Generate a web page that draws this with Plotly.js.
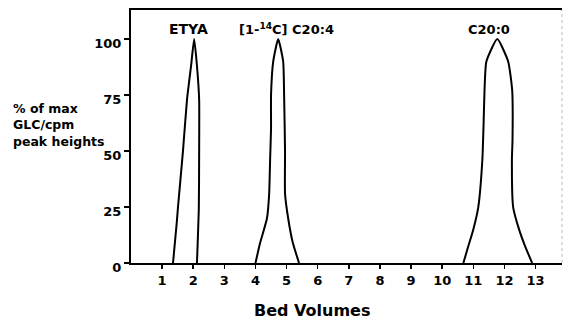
<!DOCTYPE html>
<html><head><meta charset="utf-8">
<script src="https://cdn.plot.ly/plotly-3.0.1.min.js"></script>
<style>html,body{margin:0;padding:0;background:#fff}</style>
</head><body><div id="chart" style="width:563px;height:320px"></div>
<script>
// Peak outlines (bed volumes, % of max peak height)
const etyaX = [1.35, 1.47, 1.51, 1.67, 1.80, 1.93, 2.03, 2.12, 2.19, 2.19, 2.18, 2.12];
const etyaY = [0, 18, 25, 50, 73, 88, 100, 88, 73, 50, 25, 0];
const c204X = [4.0, 4.15, 4.37, 4.44, 4.47, 4.5, 4.5, 4.57, 4.73, 4.89, 4.92, 4.95, 4.95, 5.05, 5.2, 5.4];
const c204Y = [0, 9, 20, 31, 46, 60, 75, 90, 100, 90, 75, 50, 31, 20, 9, 0];
const c200X = [10.68, 10.85, 11.0, 11.16, 11.29, 11.33, 11.36, 11.42, 11.77, 12.12, 12.25, 12.26, 12.24, 12.28, 12.47, 12.65, 12.89];
const c200Y = [0, 8, 15, 25, 46, 62, 77, 90, 100, 90, 77, 55, 46, 25, 15, 8, 0];
const peakLabels = ['ETYA', '[1-<sup>14</sup>C] C20:4', 'C20:0'];
const labelX = [1.84, 5.0, 11.5];
const xTicks = [1,2,3,4,5,6,7,8,9,10,11,12,13];
const yTicks = [0, 25, 50, 75, 100];

const FONT = 'DejaVu Sans, Arial, sans-serif';
const line = {color: '#000', width: 2, shape: 'spline', smoothing: 0.5};
const traces = [
  {x: etyaX, y: etyaY, mode: 'lines', line: line, hoverinfo: 'skip'},
  {x: c204X, y: c204Y, mode: 'lines', line: line, hoverinfo: 'skip'},
  {x: c200X, y: c200Y, mode: 'lines', line: line, hoverinfo: 'skip'}
];
const annotations = peakLabels.map((t, i) => ({
  x: labelX[i], y: 104.5, xref: 'x', yref: 'y', text: t, showarrow: false,
  font: {family: FONT, size: i === 0 ? 14 : 13, color: '#000', weight: 'bold'}, yanchor: 'middle'
}));
annotations.push({
  xref: 'paper', yref: 'paper', x: -0.279, y: 0.545, xanchor: 'left', yanchor: 'middle', align: 'left',
  text: '% of max<br>GLC/cpm<br>peak heights', showarrow: false,
  font: {family: FONT, size: 12.5, color: '#000', weight: 'bold'}
});
annotations.push({
  xref: 'paper', yref: 'paper', x: 0.42, y: -0.188, xanchor: 'center', yanchor: 'middle',
  text: 'Bed Volumes', showarrow: false,
  font: {family: FONT, size: 16, color: '#000', weight: 'bold'}
});
const layout = {
  width: 563, height: 320,
  margin: {l: 131, r: 1, t: 10, b: 57},
  paper_bgcolor: '#fff', plot_bgcolor: '#fff',
  showlegend: false,
  xaxis: {range: [0, 13.85], tickvals: xTicks, ticktext: xTicks.map(String),
    showgrid: false, zeroline: false, showline: true, linecolor: '#000', linewidth: 2,
    mirror: true, ticks: 'outside', ticklen: 4, tickwidth: 1.5, tickcolor: '#000',
    tickfont: {family: FONT, size: 13, color: '#000', weight: 'bold'}},
  yaxis: {range: [0, 113], tickvals: yTicks, ticktext: yTicks.map(String),
    showgrid: false, zeroline: false, showline: true, linecolor: '#000', linewidth: 2,
    ticks: 'outside', ticklen: 5, tickwidth: 1.5, tickcolor: '#000', ticklabelshift: 4,
    ticklabelstandoff: 0,
    tickfont: {family: FONT, size: 13, color: '#000', weight: 'bold'}},
  shapes: [{type: 'line', xref: 'paper', yref: 'paper', x0: 1, x1: 1, y0: 0, y1: 1,
    line: {color: '#bbb', width: 1, dash: 'dot'}}],
  annotations: annotations
};
Plotly.newPlot('chart', traces, layout, {staticPlot: true, displayModeBar: false});
</script></body></html>
